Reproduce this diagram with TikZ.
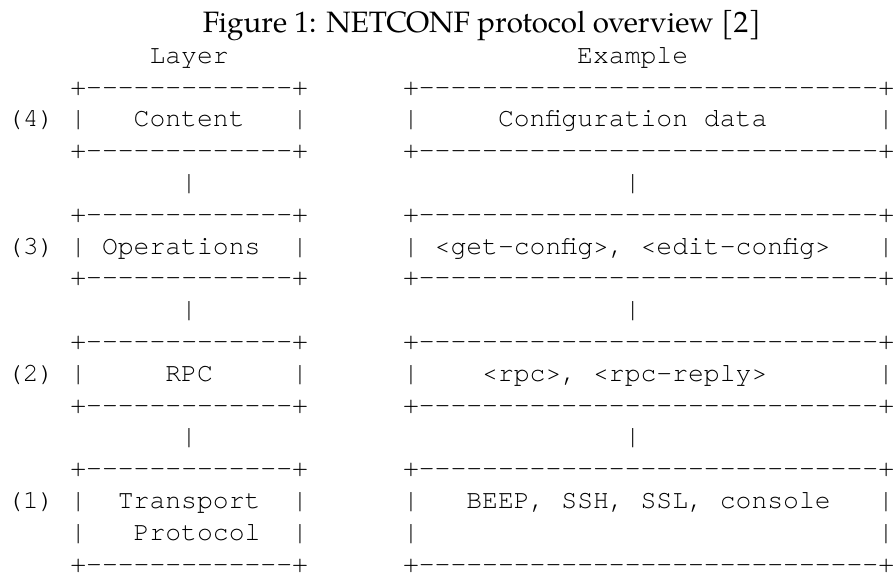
\documentclass[tikz,border=0pt]{standalone}
\usepackage{fontspec}
\setmainfont{TeX Gyre Pagella}
\setmonofont{TeX Gyre Cursor}
\tikzset{
  asc/.style={font=\ttfamily\fontsize{12}{14.5}\selectfont, anchor=base west, inner sep=0pt, outer sep=0pt, text=black},
  ttl/.style={font=\fontsize{13.4}{15.5}\selectfont, anchor=base, inner sep=0pt, outer sep=0pt, text=black}
}
\newcommand\asciiat[4]{\node[asc] (#1) at ({7+15.84*#2},{95+31.8*#3}) {#4};}
\newcommand\lbarr{+-------------+}
\newcommand\rbarr{+-----------------------------+}
\begin{document}
\begin{tikzpicture}[x=0.4545pt,y=-0.4545pt]
\useasboundingbox (0,0) rectangle (896,574);
\node[ttl] (title) at (482,32) {Figure 1: NETCONF protocol overview [2]};
% header
\asciiat{hlayer}{9}{-1}{Layer}
\asciiat{hexample}{36}{-1}{Example}
% layer 4
\asciiat{l4top}{4}{0}{\lbarr}
\asciiat{r4top}{25}{0}{\rbarr}
\asciiat{n4}{0}{1}{(4)}
\asciiat{l4a}{4}{1}{|}
\asciiat{l4t}{8}{1}{Content}
\asciiat{l4b}{18}{1}{|}
\asciiat{r4a}{25}{1}{|}
\asciiat{r4t}{31}{1}{Configuration data}
\asciiat{r4b}{55}{1}{|}
\asciiat{l4bot}{4}{2}{\lbarr}
\asciiat{r4bot}{25}{2}{\rbarr}
\asciiat{lc43}{11}{3}{|}
\asciiat{rc43}{39}{3}{|}
% layer 3
\asciiat{l3top}{4}{4}{\lbarr}
\asciiat{r3top}{25}{4}{\rbarr}
\asciiat{n3}{0}{5}{(3)}
\asciiat{l3a}{4}{5}{|}
\asciiat{l3t}{6}{5}{Operations}
\asciiat{l3b}{18}{5}{|}
\asciiat{r3a}{25}{5}{|}
\asciiat{r3t}{27}{5}{<get-config>, <edit-config>}
\asciiat{r3b}{55}{5}{|}
\asciiat{l3bot}{4}{6}{\lbarr}
\asciiat{r3bot}{25}{6}{\rbarr}
\asciiat{lc32}{11}{7}{|}
\asciiat{rc32}{39}{7}{|}
% layer 2
\asciiat{l2top}{4}{8}{\lbarr}
\asciiat{r2top}{25}{8}{\rbarr}
\asciiat{n2}{0}{9}{(2)}
\asciiat{l2a}{4}{9}{|}
\asciiat{l2t}{10}{9}{RPC}
\asciiat{l2b}{18}{9}{|}
\asciiat{r2a}{25}{9}{|}
\asciiat{r2t}{30}{9}{<rpc>, <rpc-reply>}
\asciiat{r2b}{55}{9}{|}
\asciiat{l2bot}{4}{10}{\lbarr}
\asciiat{r2bot}{25}{10}{\rbarr}
\asciiat{lc21}{11}{11}{|}
\asciiat{rc21}{39}{11}{|}
% layer 1
\asciiat{l1top}{4}{12}{\lbarr}
\asciiat{r1top}{25}{12}{\rbarr}
\asciiat{n1}{0}{13}{(1)}
\asciiat{l1a}{4}{13}{|}
\asciiat{l1t}{7}{13}{Transport}
\asciiat{l1b}{18}{13}{|}
\asciiat{r1a}{25}{13}{|}
\asciiat{r1t}{29}{13}{BEEP, SSH, SSL, console}
\asciiat{r1b}{55}{13}{|}
\asciiat{l1c}{4}{14}{|}
\asciiat{l1u}{8}{14}{Protocol}
\asciiat{l1d}{18}{14}{|}
\asciiat{r1c}{25}{14}{|}
\asciiat{r1d}{55}{14}{|}
\asciiat{l1bot}{4}{15}{\lbarr}
\asciiat{r1bot}{25}{15}{\rbarr}
\end{tikzpicture}
\end{document}
